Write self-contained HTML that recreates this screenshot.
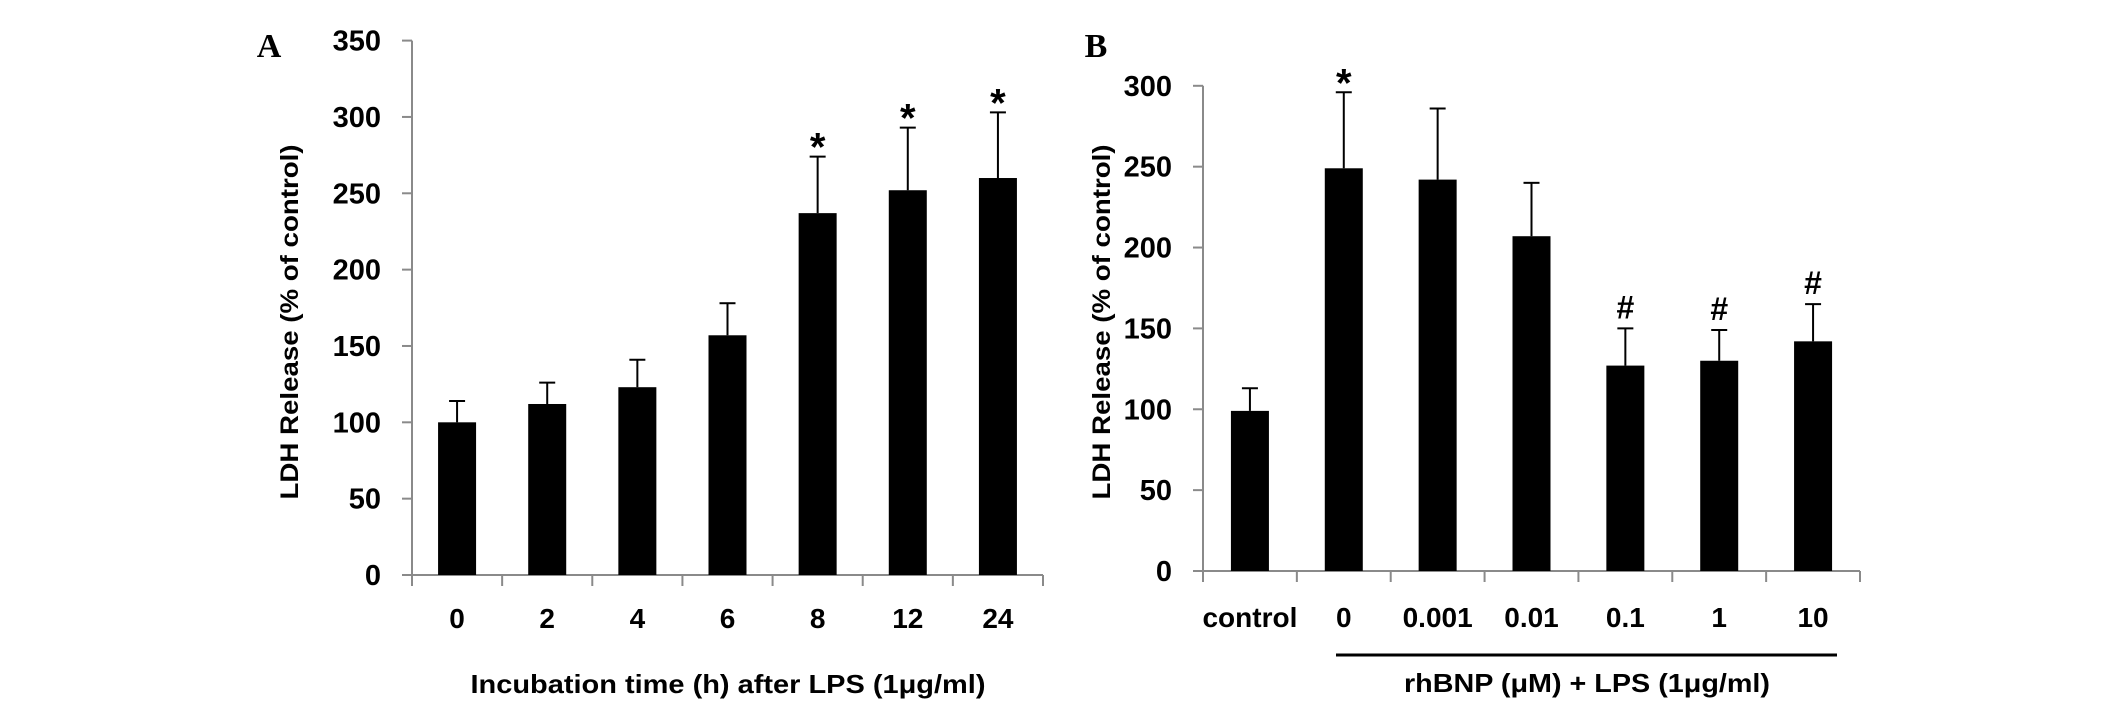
<!DOCTYPE html>
<html><head><meta charset="utf-8"><style>
html,body{margin:0;padding:0;background:#fff;}
svg{display:block;}
text{font-family:"Liberation Sans",sans-serif;font-weight:bold;fill:#000;}
</style></head><body>
<svg id="fig" width="2126" height="708" viewBox="0 0 2126 708" xmlns="http://www.w3.org/2000/svg">
<text x="269" y="57" style="font-family:'Liberation Serif',serif" font-size="34" text-anchor="middle">A</text>
<text x="1096" y="57" style="font-family:'Liberation Serif',serif" font-size="34" text-anchor="middle">B</text>
<g id="pa"></g>
<g id="pb"></g>
<text x="298" y="322" font-size="25" text-anchor="middle" textLength="355" lengthAdjust="spacingAndGlyphs" transform="rotate(-90 298 322)">LDH Release (% of control)</text>
<text x="1110" y="322" font-size="25" text-anchor="middle" textLength="355" lengthAdjust="spacingAndGlyphs" transform="rotate(-90 1110 322)">LDH Release (% of control)</text>
<text x="728" y="693" font-size="26" text-anchor="middle" textLength="515" lengthAdjust="spacingAndGlyphs">Incubation  time (h) after LPS (1μg/ml)</text>
<line x1="1336" y1="655" x2="1837" y2="655" stroke="#000" stroke-width="3"/>
<text x="1587" y="692" font-size="26" text-anchor="middle" textLength="366" lengthAdjust="spacingAndGlyphs">rhBNP (μM) + LPS (1μg/ml)</text>
</svg>
<script>
const aCategories = ["0","2","4","6","8","12","24"];
const aValues = [100, 112, 123, 157, 237, 252, 260];
const aErrors = [114, 126, 141, 178, 274, 293, 303];
const aMarks = ["", "", "", "", "*", "*", "*"];
const aTicks = [0, 50, 100, 150, 200, 250, 300, 350];

const bCategories = ["control","0","0.001","0.01","0.1","1","10"];
const bValues = [99, 249, 242, 207, 127, 130, 142];
const bErrors = [113, 296, 286, 240, 150, 149, 165];
const bMarks = ["", "*", "", "", "#", "#", "#"];
const bTicks = [0, 50, 100, 150, 200, 250, 300];

const NS = "http://www.w3.org/2000/svg";
function mk(parent, tag, attrs, txt) {
  const e = document.createElementNS(NS, tag);
  for (const k in attrs) e.setAttribute(k, attrs[k]);
  if (txt !== undefined) e.textContent = txt;
  parent.appendChild(e);
  return e;
}

function drawPanel(g, cfg, cats, vals, errs, marks, ticks, prefix) {
  const slot = (cfg.x1 - cfg.x0) / cats.length;
  const y = v => cfg.y0 - (v / cfg.vmax) * (cfg.y0 - cfg.ytop);
  const xc = i => cfg.x0 + slot * (i + 0.5);
  const ya = mk(g, "line", {x1: cfg.x0, y1: y(cfg.vmax), x2: cfg.x0, y2: cfg.y0, stroke: "#8a8a8a", "stroke-width": 2});
  
  
  const xa = mk(g, "line", {x1: cfg.x0 - 10, y1: cfg.y0, x2: cfg.x1, y2: cfg.y0, stroke: "#8a8a8a", "stroke-width": 2});
  
  
  ticks.forEach(t => {
    const tl = mk(g, "line", {x1: cfg.x0 - 10, y1: y(t), x2: cfg.x0, y2: y(t), stroke: "#8a8a8a", "stroke-width": 2});
    
    
    const tx = mk(g, "text", {x: cfg.x0 - 31, y: y(t) + 10, "font-size": 29, "text-anchor": "end"}, String(t));
    
    
  });
  for (let i = 0; i <= cats.length; i++) {
    const xt = cfg.x0 + slot * i;
    const tk = mk(g, "line", {x1: xt, y1: cfg.y0, x2: xt, y2: cfg.y0 + 11, stroke: "#8a8a8a", "stroke-width": 2});
    
    
  }
  cats.forEach((c, i) => {
    const bw = 38;
    const bar = mk(g, "rect", {x: xc(i) - bw / 2, y: y(vals[i]), width: bw, height: cfg.y0 - y(vals[i]), fill: "#000"});
    
    
    const el = mk(g, "line", {x1: xc(i), y1: y(vals[i]), x2: xc(i), y2: y(errs[i]), stroke: "#000", "stroke-width": 2});
    
    
    const cap = mk(g, "line", {x1: xc(i) - 8, y1: y(errs[i]), x2: xc(i) + 8, y2: y(errs[i]), stroke: "#000", "stroke-width": 2});
    
    
    const lb = mk(g, "text", {x: xc(i), y: cfg.labelY, "font-size": 28, "text-anchor": "middle"}, c);
    
    
    if (marks[i]) {
      const isStar = marks[i] === "*";
      const m = mk(g, "text", {x: xc(i), y: y(errs[i]) - (isStar ? -4 : 10), "font-size": isStar ? 40 : 32, "text-anchor": "middle"}, marks[i]);
      
      
    }
  });
}

drawPanel(document.getElementById("pa"), {x0: 412, x1: 1043, y0: 575, ytop: 40.6, vmax: 350, labelY: 628}, aCategories, aValues, aErrors, aMarks, aTicks, "panel-a");
drawPanel(document.getElementById("pb"), {x0: 1203, x1: 1860, y0: 571, ytop: 85.8, vmax: 300, labelY: 627}, bCategories, bValues, bErrors, bMarks, bTicks, "panel-b");
</script>
</body></html>
